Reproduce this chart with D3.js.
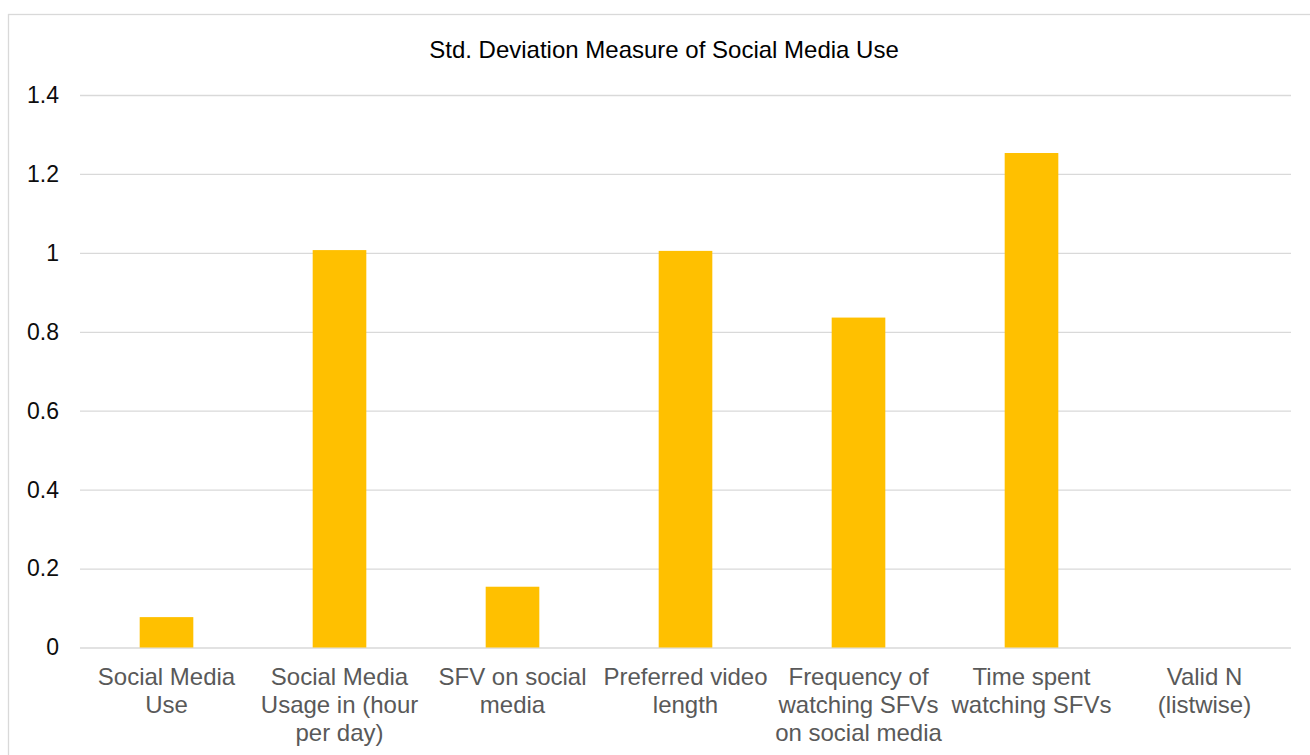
<!DOCTYPE html>
<html>
<head>
<meta charset="utf-8">
<script src="https://cdn.jsdelivr.net/npm/d3@7"></script>
<style>
  html, body { margin: 0; padding: 0; background: #fff; }
  svg { display: block; font-family: "Liberation Sans", Arial, sans-serif; }
</style>
</head>
<body>
<svg id="chart" width="1310" height="755"></svg>
<script>
// Standard deviations for each survey measure
const categories = [
  "Social Media Use",
  "Social Media Usage in (hour per day)",
  "SFV on social media",
  "Preferred video length",
  "Frequency of watching SFVs on social media",
  "Time spent watching SFVs",
  "Valid N (listwise)"
];
const stdDeviation = [0.077, 1.007, 0.154, 1.005, 0.836, 1.253, 0];
const yTicks = [0, 0.2, 0.4, 0.6, 0.8, 1, 1.2, 1.4];
const title = "Std. Deviation Measure of Social Media Use";

const svg = d3.select("#chart");
const W = 1310, H = 755;
const plot = { left: 80, right: 1291, top: 95, bottom: 647.5 };

// chart-area frame (runs past the right and bottom edges)
svg.append("rect")
  .attr("x", 8.5).attr("y", 14.5)
  .attr("width", W + 20).attr("height", H + 20)
  .attr("fill", "#fff")
  .attr("stroke", "#d9d9d9").attr("stroke-width", 1.3);

svg.append("text")
  .attr("x", 664).attr("y", 57.5)
  .attr("text-anchor", "middle")
  .attr("font-size", 24)
  .attr("fill", "#000")
  .text(title);

const x = d3.scaleBand()
  .domain(categories)
  .range([plot.left, plot.right])
  .paddingInner(0.69)
  .paddingOuter(0.345);

const y = d3.scaleLinear()
  .domain([0, 1.4])
  .range([plot.bottom, plot.top]);

// horizontal gridlines + value labels
const yAxis = d3.axisLeft(y)
  .tickValues(yTicks)
  .tickSize(-(plot.right - plot.left))
  .tickPadding(21)
  .tickFormat(d => d3.format("")(+d.toFixed(1)));

const gy = svg.append("g")
  .attr("transform", `translate(${plot.left},0)`)
  .call(yAxis);
gy.select(".domain").remove();
gy.selectAll(".tick line")
  .attr("stroke", "#d9d9d9")
  .attr("stroke-width", 1.3);
gy.selectAll(".tick text")
  .attr("font-size", 23)
  .attr("fill", "#0d0d0d")
  .attr("font-family", "Liberation Sans, Arial, sans-serif");

// bars
svg.append("g")
  .selectAll("rect")
  .data(categories.map((c, i) => ({ c, v: stdDeviation[i] })))
  .join("rect")
  .attr("x", d => x(d.c))
  .attr("width", x.bandwidth())
  .attr("y", d => y(d.v))
  .attr("height", d => y(0) - y(d.v))
  .attr("fill", "#FFC000");

// category labels, wrapped to the band step
const step = x.step();
const xAxis = d3.axisBottom(x).tickSize(0).tickPadding(0);
const gx = svg.append("g")
  .attr("transform", `translate(0,${plot.bottom})`)
  .call(xAxis);
gx.select(".domain").remove();
gx.selectAll(".tick text")
  .attr("font-size", 24)
  .attr("fill", "#595959")
  .attr("font-family", "Liberation Sans, Arial, sans-serif")
  .attr("dy", null)
  .attr("y", 0)
  .each(function (d) {
    const t = d3.select(this);
    const words = d.split(" ");
    t.text(null);
    let lines = [], cur = [];
    const probe = t.append("tspan");
    for (const w of words) {
      const trial = cur.concat(w).join(" ");
      probe.text(trial);
      if (probe.node().getComputedTextLength() > step - 2 && cur.length) {
        lines.push(cur.join(" "));
        cur = [w];
      } else {
        cur.push(w);
      }
    }
    lines.push(cur.join(" "));
    probe.remove();
    lines.forEach((ln, i) => {
      t.append("tspan")
        .attr("x", 0)
        .attr("y", 37 + i * 28)
        .text(ln);
    });
  });
</script>
</body>
</html>
